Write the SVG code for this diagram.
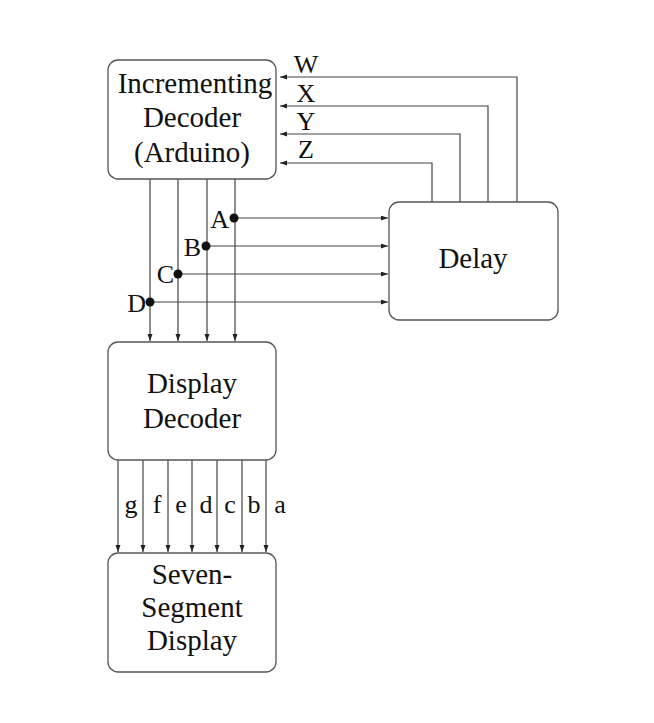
<svg xmlns="http://www.w3.org/2000/svg" width="654" height="723" viewBox="0 0 654 723">
<style>
.box{fill:#fff;stroke:#555;stroke-width:1.3}
.t{font-family:"Liberation Serif","Times New Roman",serif;font-size:29px;fill:#111;text-anchor:middle}
.l{font-family:"Liberation Serif","Times New Roman",serif;font-size:26px;fill:#111}
.c{fill:none;stroke:#444;stroke-width:1.2}
</style>
<defs>
<marker id="ah" markerUnits="userSpaceOnUse" markerWidth="8" markerHeight="6" refX="7" refY="2.5" orient="auto">
<path d="M0,0 L7,2.5 L0,5 z" fill="#222"/>
</marker>
</defs>
<rect width="654" height="723" fill="#fff"/>
<g id="connectors">
<polyline class="c" points="517,202 517,77 280,77" marker-end="url(#ah)"/>
<polyline class="c" points="488,202 488,106 280,106" marker-end="url(#ah)"/>
<polyline class="c" points="460,202 460,134 280,134" marker-end="url(#ah)"/>
<polyline class="c" points="432,202 432,163 280,163" marker-end="url(#ah)"/>
<line class="c" x1="150" y1="179" x2="150" y2="341" marker-end="url(#ah)"/>
<line class="c" x1="178" y1="179" x2="178" y2="341" marker-end="url(#ah)"/>
<line class="c" x1="207" y1="179" x2="207" y2="341" marker-end="url(#ah)"/>
<line class="c" x1="235" y1="179" x2="235" y2="341" marker-end="url(#ah)"/>
<line class="c" x1="234" y1="218" x2="388" y2="218" marker-end="url(#ah)"/>
<line class="c" x1="206" y1="246" x2="388" y2="246" marker-end="url(#ah)"/>
<line class="c" x1="178" y1="274" x2="388" y2="274" marker-end="url(#ah)"/>
<line class="c" x1="150" y1="302" x2="388" y2="302" marker-end="url(#ah)"/>
<circle cx="234" cy="218" r="4.5" fill="#111"/>
<circle cx="206" cy="246" r="4.5" fill="#111"/>
<circle cx="178" cy="274" r="4.5" fill="#111"/>
<circle cx="150" cy="302" r="4.5" fill="#111"/>
<line class="c" x1="118" y1="460" x2="118" y2="552" marker-end="url(#ah)"/>
<line class="c" x1="143" y1="460" x2="143" y2="552" marker-end="url(#ah)"/>
<line class="c" x1="168" y1="460" x2="168" y2="552" marker-end="url(#ah)"/>
<line class="c" x1="192" y1="460" x2="192" y2="552" marker-end="url(#ah)"/>
<line class="c" x1="217" y1="460" x2="217" y2="552" marker-end="url(#ah)"/>
<line class="c" x1="242" y1="460" x2="242" y2="552" marker-end="url(#ah)"/>
<line class="c" x1="266" y1="460" x2="266" y2="552" marker-end="url(#ah)"/>
<text class="l" x="306" y="73" text-anchor="middle">W</text>
<text class="l" x="306" y="102" text-anchor="middle">X</text>
<text class="l" x="306" y="130" text-anchor="middle">Y</text>
<text class="l" x="306" y="158" text-anchor="middle">Z</text>
<text class="l" x="229" y="228" text-anchor="end">A</text>
<text class="l" x="201" y="256" text-anchor="end">B</text>
<text class="l" x="174" y="283" text-anchor="end">C</text>
<text class="l" x="146" y="312" text-anchor="end">D</text>
<text class="l" x="131" y="513" text-anchor="middle">g</text>
<text class="l" x="157" y="513" text-anchor="middle">f</text>
<text class="l" x="181" y="513" text-anchor="middle">e</text>
<text class="l" x="206" y="513" text-anchor="middle">d</text>
<text class="l" x="230" y="513" text-anchor="middle">c</text>
<text class="l" x="254" y="513" text-anchor="middle">b</text>
<text class="l" x="280" y="513" text-anchor="middle">a</text>
</g>
<g id="incrementing-decoder">
<rect class="box" x="108" y="60" width="168" height="119" rx="10"/>
<text class="t" x="195" y="93">Incrementing</text>
<text class="t" x="192" y="127">Decoder</text>
<text class="t" x="192" y="162">(Arduino)</text>
</g>
<g id="delay">
<rect class="box" x="389" y="202" width="169" height="118" rx="10"/>
<text class="t" x="473" y="268">Delay</text>
</g>
<g id="display-decoder">
<rect class="box" x="108" y="342" width="168" height="118" rx="10"/>
<text class="t" x="192" y="393">Display</text>
<text class="t" x="192" y="428">Decoder</text>
</g>
<g id="seven-segment">
<rect class="box" x="108" y="553" width="168" height="119" rx="10"/>
<text class="t" x="192" y="584">Seven-</text>
<text class="t" x="192" y="617">Segment</text>
<text class="t" x="192" y="650">Display</text>
</g>
</svg>
